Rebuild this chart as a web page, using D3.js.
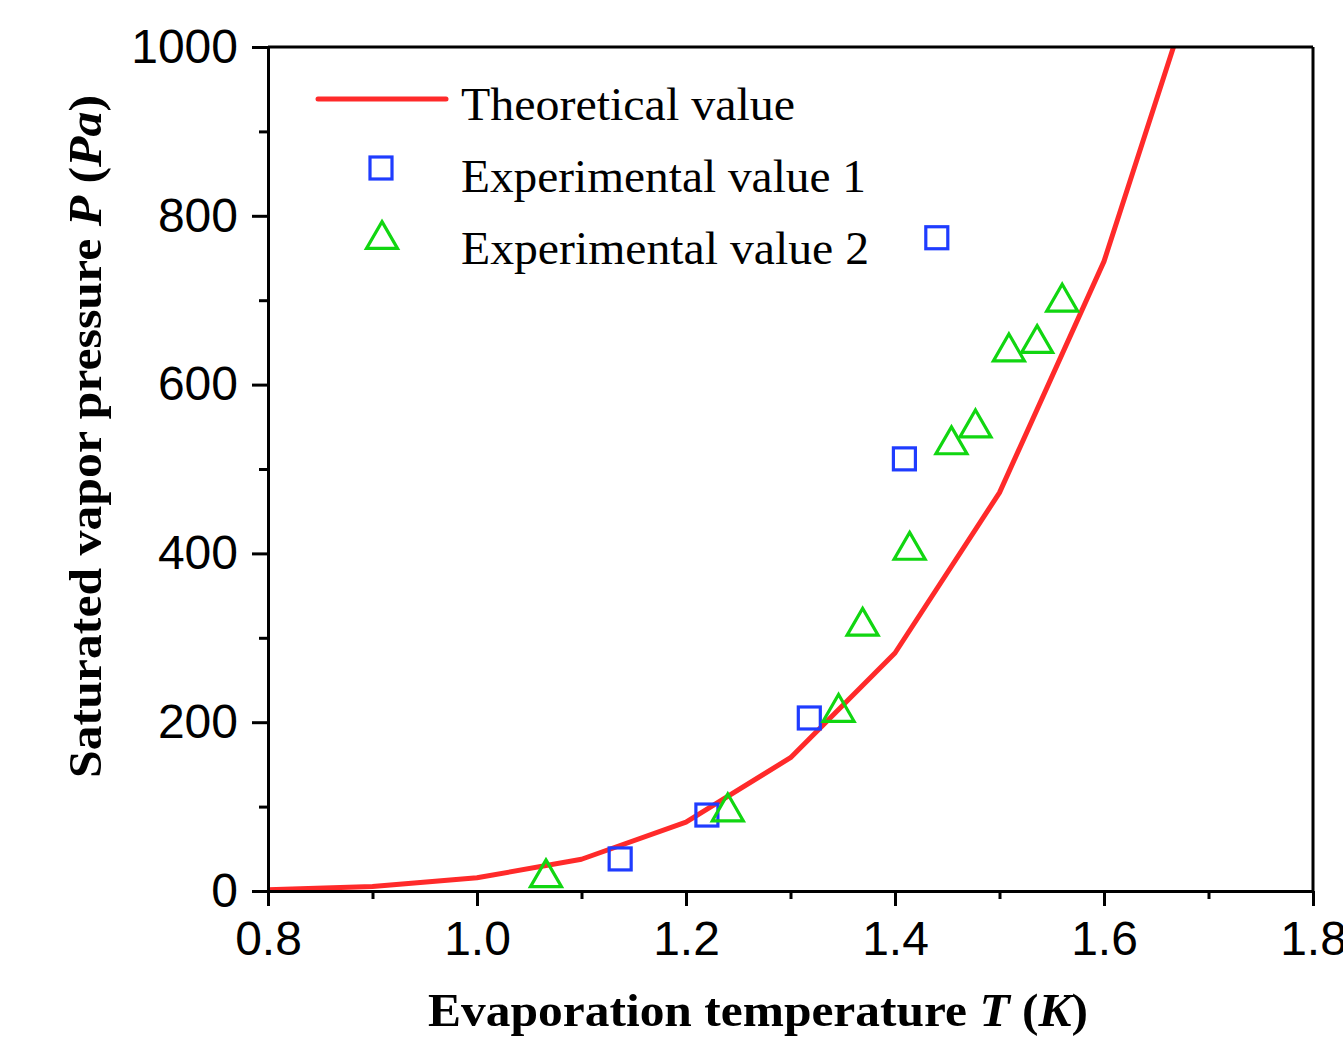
<!DOCTYPE html>
<html>
<head>
<meta charset="utf-8">
<script src="https://cdn.jsdelivr.net/npm/d3@7"></script>
<style>
  html, body { margin: 0; padding: 0; background: #fff; }
  svg { display: block; }
</style>
</head>
<body>
<svg id="chart" width="1343" height="1041"></svg>
<script>
// ---- data ----
const theoryT = [0.8, 0.9, 1.0, 1.1, 1.2, 1.3, 1.4, 1.5, 1.6, 1.7, 1.8];
const theoryP = [1.4, 5.4, 15.6, 37.6, 81.6, 158, 282, 472, 746, 1128, 1638];

const exp1T = [1.137, 1.220, 1.318, 1.409, 1.440];
const exp1P = [38, 90, 205, 512, 774];

const exp2T = [1.066, 1.240, 1.346, 1.369, 1.414, 1.454, 1.477, 1.509, 1.536, 1.560];
const exp2P = [21, 99, 217, 319, 409, 534, 554, 644, 654, 703];

const xMajorTicks = [0.8, 1.0, 1.2, 1.4, 1.6, 1.8];
const xMinorTicks = [0.9, 1.1, 1.3, 1.5, 1.7];
const yMajorTicks = [0, 200, 400, 600, 800, 1000];
const yMinorTicks = [100, 300, 500, 700, 900];

const legendLabels = ["Theoretical value", "Experimental value 1", "Experimental value 2"];

// ---- layout ----
const svg = d3.select("#chart");
const M = { left: 268, top: 47, right: 30, bottom: 150 };
const W = 1045, H = 844;

const x = d3.scaleLinear().domain([0.8, 1.8]).range([0, W]);
const y = d3.scaleLinear().domain([0, 1000]).range([H, 0]);

const RED = "#ff2a2a", BLUE = "#1f3cff", GREEN = "#11d611";

const g = svg.append("g").attr("transform", `translate(${M.left},${M.top})`);

svg.append("defs").append("clipPath").attr("id", "clip")
  .append("rect").attr("x", 0).attr("y", 0).attr("width", W).attr("height", H);

// theoretical line
const lineData = theoryT.map((t, i) => [t, theoryP[i]]);
g.append("path")
  .datum(lineData)
  .attr("clip-path", "url(#clip)")
  .attr("fill", "none")
  .attr("stroke", RED)
  .attr("stroke-width", 5)
  .attr("stroke-linejoin", "round")
  .attr("d", d3.line().x(d => x(d[0])).y(d => y(d[1])));

// markers
const SQ = 22;         // square side
const TRI_W = 31;      // triangle width
const TRI_H = TRI_W * 0.866;
function triPath(cx, cy) {
  return `M${cx},${cy - TRI_H / 2}L${cx + TRI_W / 2},${cy + TRI_H / 2}L${cx - TRI_W / 2},${cy + TRI_H / 2}Z`;
}

g.selectAll(".sq").data(exp1T.map((t, i) => [t, exp1P[i]])).enter()
  .append("rect")
  .attr("x", d => x(d[0]) - SQ / 2)
  .attr("y", d => y(d[1]) - SQ / 2)
  .attr("width", SQ).attr("height", SQ)
  .attr("fill", "none").attr("stroke", BLUE).attr("stroke-width", 3.2);

g.selectAll(".tri").data(exp2T.map((t, i) => [t, exp2P[i]])).enter()
  .append("path")
  .attr("d", d => triPath(x(d[0]), y(d[1])))
  .attr("fill", "none").attr("stroke", GREEN).attr("stroke-width", 3.2)
  .attr("stroke-linejoin", "miter");

// axes
const tickFont = "'Liberation Sans', Arial, sans-serif";
const xAxis = g.append("g").attr("transform", `translate(0,${H})`)
  .call(d3.axisBottom(x).tickValues(xMajorTicks).tickFormat(d3.format(".1f"))
    .tickSize(15).tickSizeOuter(0).tickPadding(15));
const xMinor = g.append("g").attr("transform", `translate(0,${H})`)
  .call(d3.axisBottom(x).tickValues(xMinorTicks).tickFormat("").tickSize(8).tickSizeOuter(0));
const yAxis = g.append("g")
  .call(d3.axisLeft(y).tickValues(yMajorTicks).tickFormat(d3.format("d"))
    .tickSize(16).tickSizeOuter(0).tickPadding(14));
const yMinor = g.append("g")
  .call(d3.axisLeft(y).tickValues(yMinorTicks).tickFormat("").tickSize(9).tickSizeOuter(0));

[xAxis, xMinor, yAxis, yMinor].forEach(a => {
  a.selectAll("path.domain").attr("stroke", "#000").attr("stroke-width", 3);
  a.selectAll(".tick line").attr("stroke", "#000").attr("stroke-width", 3);
  a.selectAll(".tick text").attr("fill", "#000")
    .style("font-family", tickFont).style("font-size", "48px");
});

// top and right frame
g.append("line").attr("x1", 0).attr("x2", W).attr("y1", 0).attr("y2", 0)
  .attr("stroke", "#000").attr("stroke-width", 3);
g.append("line").attr("x1", W).attr("x2", W).attr("y1", 0).attr("y2", H)
  .attr("stroke", "#000").attr("stroke-width", 3);

// axis titles
const serif = "'Liberation Serif', 'Times New Roman', serif";
const xt = svg.append("text")
  .attr("x", 428).attr("y", 1026)
  .attr("textLength", 660).attr("lengthAdjust", "spacingAndGlyphs")
  .style("font-family", serif).style("font-size", "47px").style("font-weight", "bold")
  .attr("fill", "#000");
xt.append("tspan").text("Evaporation temperature ");
xt.append("tspan").style("font-style", "italic").text("T");
xt.append("tspan").text(" (");
xt.append("tspan").style("font-style", "italic").text("K");
xt.append("tspan").text(")");

const yt = svg.append("text")
  .attr("transform", "translate(101,778) rotate(-90)")
  .attr("x", 0).attr("y", 0)
  .attr("textLength", 683).attr("lengthAdjust", "spacingAndGlyphs")
  .style("font-family", serif).style("font-size", "47px").style("font-weight", "bold")
  .attr("fill", "#000");
yt.append("tspan").text("Saturated vapor pressure ");
yt.append("tspan").style("font-style", "italic").text("P");
yt.append("tspan").text(" (");
yt.append("tspan").style("font-style", "italic").text("Pa");
yt.append("tspan").text(")");

// legend
const lg = svg.append("g");
const legTextX = 461;
const legBase = [120, 192, 264];
const legLen = [334, 405, 408];
const legMidY = [99, 168, 235];
lg.append("line").attr("x1", 318).attr("x2", 446).attr("y1", legMidY[0]).attr("y2", legMidY[0])
  .attr("stroke", RED).attr("stroke-width", 5).attr("stroke-linecap", "round");
lg.append("rect").attr("x", 381 - SQ / 2).attr("y", legMidY[1] - SQ / 2)
  .attr("width", SQ).attr("height", SQ)
  .attr("fill", "none").attr("stroke", BLUE).attr("stroke-width", 3.2);
lg.append("path").attr("d", triPath(382, legMidY[2]))
  .attr("fill", "none").attr("stroke", GREEN).attr("stroke-width", 3.2);
legendLabels.forEach((l, i) => {
  lg.append("text").attr("x", legTextX).attr("y", legBase[i])
    .attr("textLength", legLen[i]).attr("lengthAdjust", "spacingAndGlyphs")
    .style("font-family", serif).style("font-size", "46px").attr("fill", "#000")
    .text(l);
});
</script>
</body>
</html>
